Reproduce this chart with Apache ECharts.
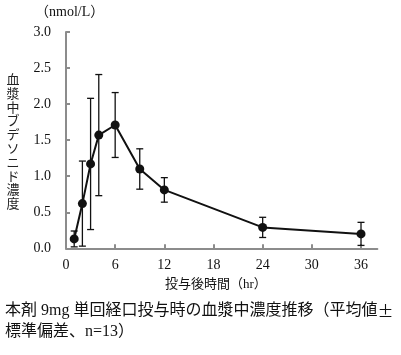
<!DOCTYPE html>
<html><head><meta charset="utf-8">
<script src="https://cdn.jsdelivr.net/npm/echarts@6/dist/echarts.min.js"></script>
<style>html,body{margin:0;padding:0;background:#fff}#c{width:401px;height:355px}</style>
</head><body><div id="c"></div>
<script>
var times = [1, 2, 3, 4, 6, 9, 12, 24, 36];
var means = [0.13, 0.62, 1.17, 1.57, 1.71, 1.10, 0.81, 0.29, 0.20];
var sds   = [0.11, 0.59, 0.91, 0.84, 0.45, 0.28, 0.17, 0.14, 0.16];
var xTicks = [0, 6, 12, 18, 24, 30, 36];
var yTicks = [0, 0.5, 1.0, 1.5, 2.0, 2.5, 3.0];
var yUnit = '（nmol/L）';
var yName = '血漿中ブデソニド濃度';
var xName = '投与後時間（hr）';
var caption = '本剤 9mg 単回経口投与時の血漿中濃度推移（平均値±\n標準偏差、n=13）';

var FONT = 'Liberation Serif, Noto Sans CJK JP, serif';
var CJK = 'Noto Sans CJK JP, sans-serif';
var AX = '#8c8c8c';
var chart = echarts.init(document.getElementById('c'), null, {renderer: 'canvas'});
var lineData = times.map(function (t, i) { return [t, means[i]]; });
var errData = times.map(function (t, i) { return [t, means[i] - sds[i], means[i] + sds[i]]; });

var graphics = [
  {type: 'text', left: 35, top: 5, style: {text: yUnit, fontFamily: FONT, fontSize: 14, fill: '#111'}},
  {type: 'text', left: 165, top: 278, style: {text: xName, fontFamily: FONT, fontSize: 13, fill: '#111'}},
  {type: 'text', left: 5, top: 301, style: {
    text: caption.replace('±', '{p|±}'), fontFamily: FONT, fontSize: 16, lineHeight: 20.5, fill: '#111',
    rich: {p: {fontFamily: CJK, fontSize: 16, lineHeight: 20.5, fill: '#111'}}}}
];
yName.split('').forEach(function (ch, i) {
  graphics.push({type: 'text', x: 13, y: 79 + i * 13.8,
    style: {text: ch, fontFamily: CJK, fontSize: 13, fill: '#222', align: 'center', verticalAlign: 'middle'}});
});

chart.setOption({
  animation: false,
  grid: {left: 66, top: 32, width: 311.4, height: 216.3, containLabel: false},
  xAxis: {
    type: 'value', min: 0, max: 38, interval: 6,
    splitLine: {show: false},
    axisLine: {lineStyle: {color: AX, width: 2}},
    axisTick: {inside: true, length: 4, lineStyle: {color: AX, width: 2}, customValues: xTicks},
    axisLabel: {customValues: xTicks, color: '#111', fontFamily: FONT, fontSize: 14, margin: 10}
  },
  yAxis: {
    type: 'value', min: 0, max: 3, interval: 0.5,
    splitLine: {show: false},
    axisLine: {show: true, lineStyle: {color: AX, width: 2}},
    axisTick: {show: true, inside: true, length: 4, lineStyle: {color: AX, width: 2}, customValues: yTicks},
    axisLabel: {customValues: yTicks, color: '#111', fontFamily: FONT, fontSize: 14, margin: 15,
      formatter: function (v) { return v.toFixed(1); }}
  },
  series: [
    {
      type: 'custom', data: errData, z: 3,
      renderItem: function (params, api) {
        var x = api.value(0);
        var lo = api.coord([x, api.value(1)]);
        var hi = api.coord([x, api.value(2)]);
        var w = 3.5;
        var st = {stroke: '#111', lineWidth: 1.3, fill: null};
        return {type: 'group', children: [
          {type: 'line', shape: {x1: lo[0], y1: lo[1], x2: hi[0], y2: hi[1]}, style: st},
          {type: 'line', shape: {x1: lo[0] - w, y1: lo[1], x2: lo[0] + w, y2: lo[1]}, style: st},
          {type: 'line', shape: {x1: hi[0] - w, y1: hi[1], x2: hi[0] + w, y2: hi[1]}, style: st}
        ]};
      }
    },
    {
      type: 'line', data: lineData, z: 4,
      symbol: 'circle', symbolSize: 9,
      lineStyle: {color: '#111', width: 2},
      itemStyle: {color: '#111'}
    }
  ],
  graphic: graphics
});
</script></body></html>
